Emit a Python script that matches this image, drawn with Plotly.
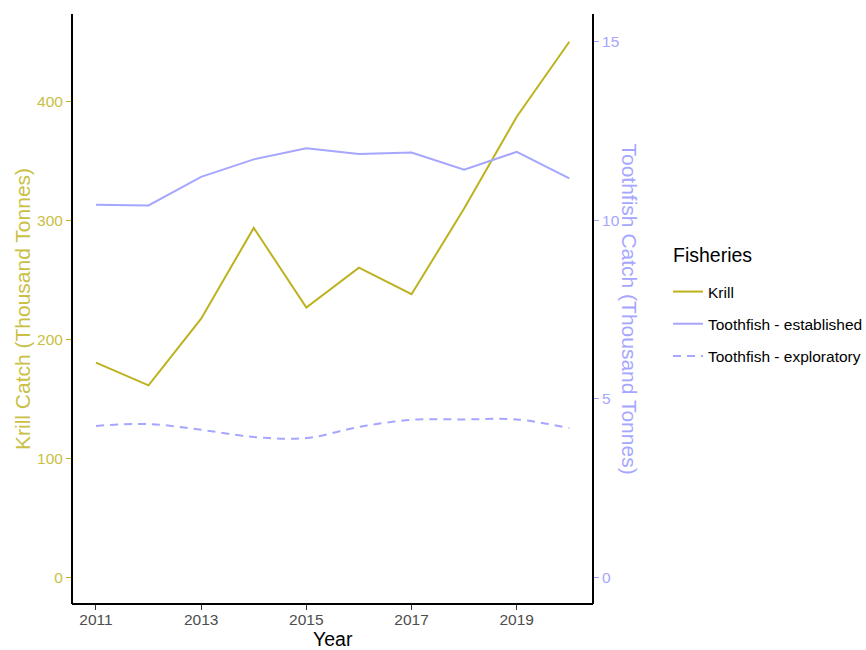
import plotly.graph_objects as go

# Annual catches, 2011-2020
years = [2011, 2012, 2013, 2014, 2015, 2016, 2017, 2018, 2019, 2020]
krill = [180.5, 161.4, 217.5, 293.8, 226.8, 260.4, 238.0, 310.0, 387.2, 450.3]
toothfish_established = [10.43, 10.41, 11.21, 11.70, 12.01, 11.85, 11.89, 11.41, 11.91, 11.17]
toothfish_exploratory = [4.24, 4.29, 4.13, 3.93, 3.90, 4.21, 4.41, 4.42, 4.42, 4.18]

krill_ticks = [0, 100, 200, 300, 400]
toothfish_ticks = [0, 5, 10, 15]
year_ticks = [2011, 2013, 2015, 2017, 2019]

KRILL_COL = "#BDB21E"
KRILL_TEXT = "#C9C044"
TOOTH_COL = "#A6A6FF"
FONT = "Liberation Sans, Arial, sans-serif"

fig = go.Figure()
fig.add_trace(go.Scatter(
    x=years, y=krill, mode="lines", name="Krill",
    line=dict(color=KRILL_COL, width=2), legendgroup="a", yaxis="y"))
fig.add_trace(go.Scatter(
    x=years, y=toothfish_established, mode="lines", name="Toothfish - established",
    line=dict(color=TOOTH_COL, width=2), legendgroup="b", yaxis="y2"))
fig.add_trace(go.Scatter(
    x=years, y=toothfish_exploratory, mode="lines", name="Toothfish - exploratory",
    line=dict(color=TOOTH_COL, width=2, dash="8px,6px", shape="spline", smoothing=1.0),
    legendgroup="c", yaxis="y2"))

fig.update_layout(
    width=866, height=650,
    margin=dict(l=72, r=273, t=14, b=46, autoexpand=False),
    plot_bgcolor="white", paper_bgcolor="white",
    font=dict(family=FONT, size=15.5, color="#4d4d4d"),
    xaxis=dict(
        range=[2010.545, 2020.45], tickvals=year_ticks,
        showgrid=False, zeroline=False, showline=False, automargin=False,
        ticks="outside", ticklen=5, tickcolor="#333333", tickwidth=1,
        ticklabelstandoff=-4,
        tickfont=dict(size=15.5, color="#4d4d4d"),
    ),
    yaxis=dict(
        range=[-22.4, 473.6], tickvals=krill_ticks,
        showgrid=False, zeroline=False, showline=False, automargin=False,
        ticks="outside", ticklen=5, tickcolor=KRILL_COL, tickwidth=1,
        tickfont=dict(size=15.5, color=KRILL_TEXT),
        title=dict(text="Krill Catch (Thousand Tonnes)",
                   font=dict(size=21, color=KRILL_TEXT), standoff=0),
    ),
    yaxis2=dict(
        range=[-0.746, 15.77], tickvals=toothfish_ticks,
        overlaying="y", side="right",
        showgrid=False, zeroline=False, showline=False, automargin=False,
        ticks="outside", ticklen=5, tickcolor=TOOTH_COL, tickwidth=1,
        tickfont=dict(size=15.5, color=TOOTH_COL),
    ),
    legend=dict(
        xref="container", yref="container",
        x=668 / 866, y=1 - 275 / 650, xanchor="left", yanchor="top",
        font=dict(size=15.5, color="black"),
        tracegroupgap=9, bgcolor="rgba(0,0,0,0)",
    ),
)

# x-axis title
fig.add_annotation(
    text="Year", xref="paper", yref="paper",
    x=0.5, y=(603.3 - 638.5) / 589.3,
    xanchor="center", yanchor="middle", showarrow=False,
    font=dict(family=FONT, size=19.5, color="black"),
)

# Legend heading
fig.add_annotation(
    text="Fisheries", xref="paper", yref="paper",
    x=(671 - 72) / 521, y=(603.3 - 255) / 589.3,
    xanchor="left", yanchor="middle", showarrow=False,
    font=dict(family=FONT, size=19.5, color="black"),
)

# Axis frame: left, bottom and right lines meeting at the corners
for x0, y0, x1, y1 in [(0, 0, 0, 1), (0, 0, 1, 0), (1, 0, 1, 1)]:
    fig.add_shape(type="line", xref="paper", yref="paper",
                  x0=x0, y0=y0, x1=x1, y1=y1,
                  line=dict(color="black", width=2), layer="above")

fig.add_annotation(
    text="Toothfish Catch (Thousand Tonnes)", textangle=90,
    xref="paper", yref="paper", x=(629.5 - 72) / 521, y=0.5,
    xanchor="center", yanchor="middle", showarrow=False,
    font=dict(family=FONT, size=21, color=TOOTH_COL),
)

fig.write_html("out.html")
